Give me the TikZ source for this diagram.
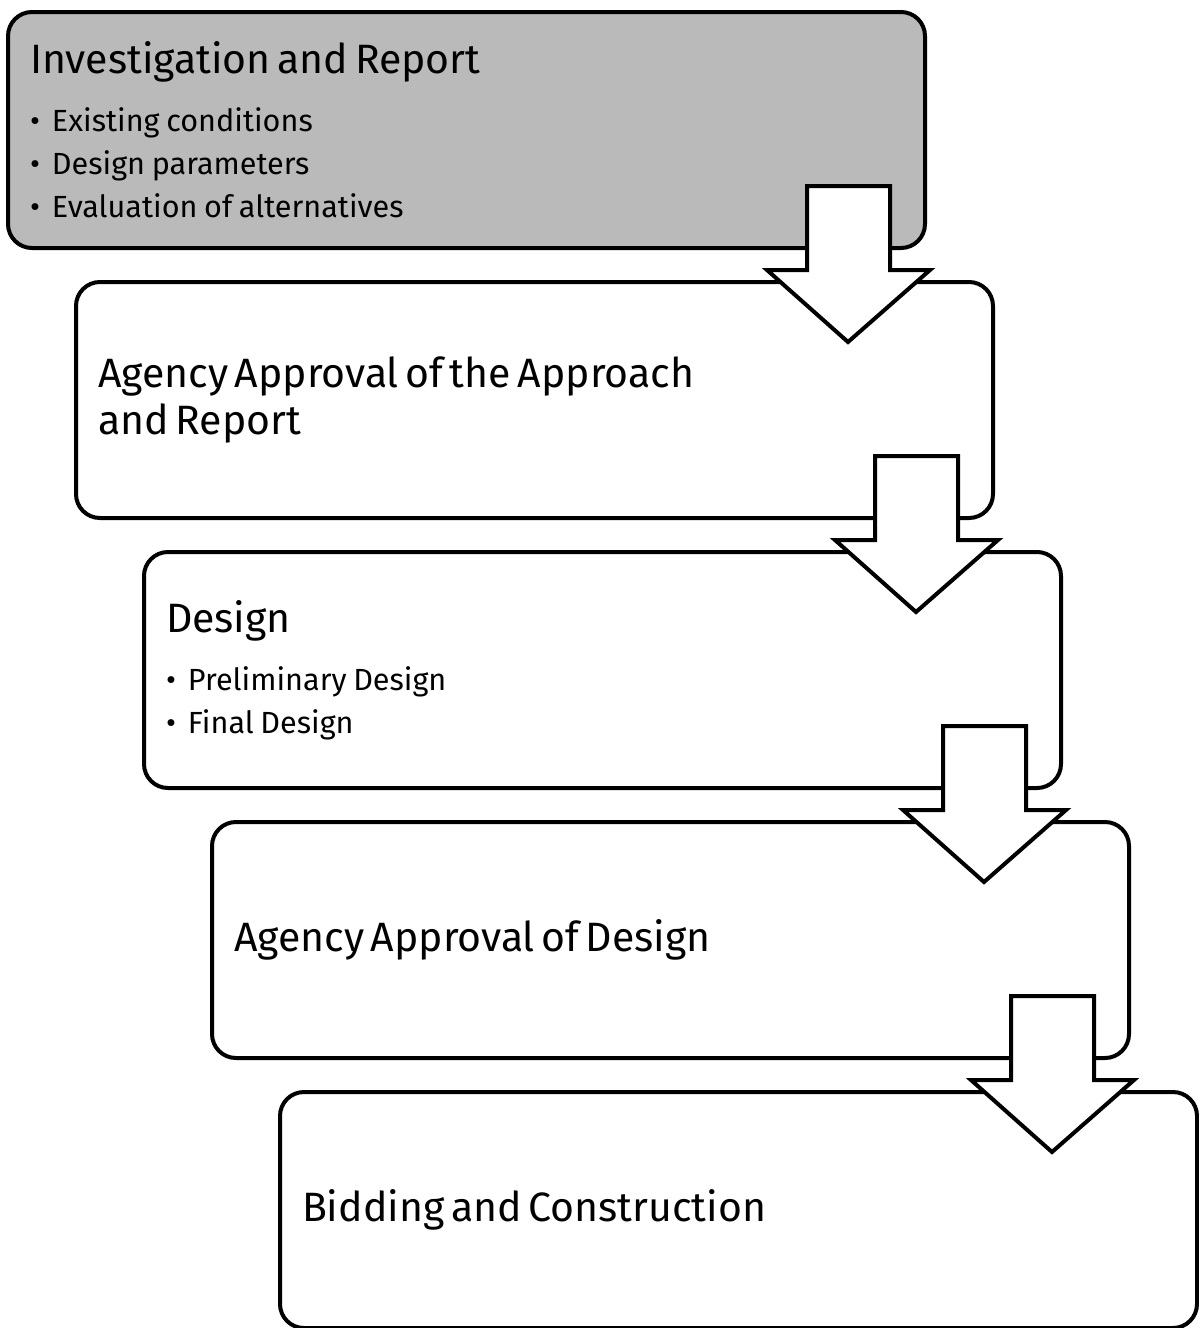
\documentclass[tikz,border=0pt]{standalone}
\usepackage{fontspec}
\setmainfont{Fira Sans}
\usetikzlibrary{positioning}

\definecolor{stagegray}{RGB}{186,186,186}
\newcommand{\titlefont}{\fontsize{20.5}{23.5}\selectfont}
\newcommand{\itemfont}{\fontsize{15.3}{21.5}\selectfont}
\newcommand{\bul}{\makebox[11pt][l]{\textbullet}}

\tikzset{stage/.style={draw, line width=2pt, fill=white, rectangle,
    rounded corners=12pt, anchor=north west, outer sep=0pt,
    minimum width=458.5pt, minimum height=118pt,
    text width=436.5pt, inner xsep=11pt, align=left}}
\tikzset{stagearrow/.style={draw, line width=2pt, fill=white, line join=miter}}

\begin{document}
\begin{tikzpicture}[x=0.5pt,y=-0.5pt]
\useasboundingbox (0,0) rectangle (1199,1328);

\node[stage, fill=stagegray] (b1) at (8,12) {\titlefont Investigation and Report\par\vspace{7.5pt}
  \itemfont\bul Existing conditions\par\bul Design parameters\par\bul Evaluation of alternatives\par\vspace{3pt}};
\node[stage] (b2) at ([shift={(68,34)}]b1.south west) {\titlefont Agency Approval of the Approach\par and Report\par};
\node[stage] (b3) at ([shift={(68,34)}]b2.south west) {\titlefont Design\par\vspace{7.5pt}
  \itemfont\bul Preliminary Design\par\bul Final Design\par};
\node[stage] (b4) at ([shift={(68,34)}]b3.south west) {\titlefont Agency Approval of Design};
\node[stage] (b5) at ([shift={(68,34)}]b4.south west) {\titlefont Bidding and Construction};

% block arrows between the stages
\foreach \i in {1,...,4}
  \draw[stagearrow] ([shift={(-118,-62)}]b\i.south east) -- ++(83,0) -- ++(0,84)
    -- ++(40,0) -- ++(-82,72) -- ++(-81,-72) -- ++(40,0) -- cycle;
\end{tikzpicture}
\end{document}
